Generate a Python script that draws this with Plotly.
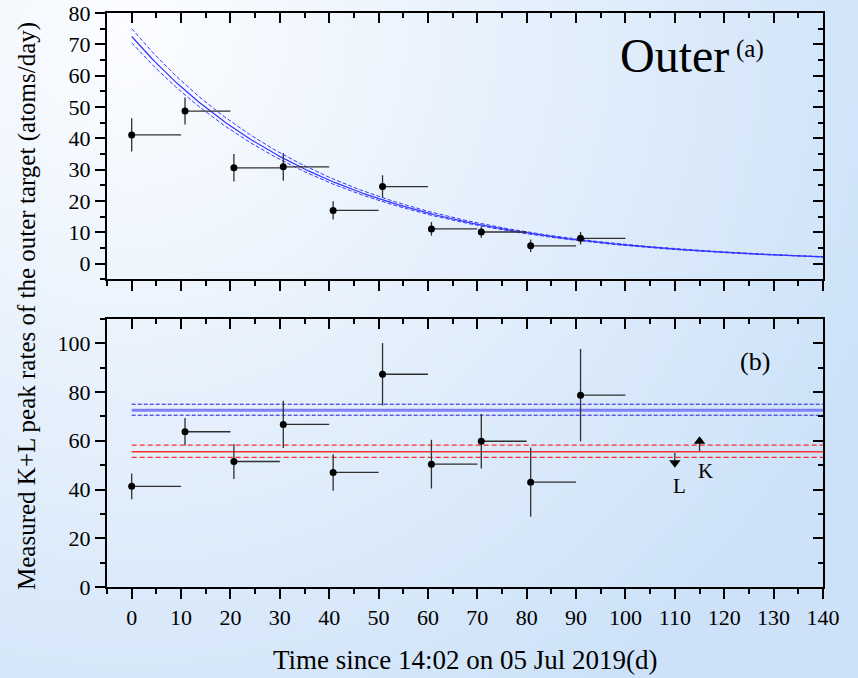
import base64
import struct
import zlib

import numpy as np
import plotly.graph_objects as go

# ---------------- data ----------------
# counting intervals (days since 14:02 on 05 Jul 2019)
t_start = [0, 10.8, 20.7, 30.7, 40.8, 50.8, 60.7, 70.8, 80.8, 90.9]
t_end = [10, 20, 30, 40, 50, 60, 70, 80, 90, 100]

# (a) measured K+L peak rates, outer target (atoms/day)
rate_outer = [41.1, 48.7, 30.6, 30.9, 17.0, 24.6, 11.1, 10.1, 5.7, 8.1]
rate_outer_err = [5.3, 4.3, 4.4, 4.4, 2.9, 3.6, 2.2, 1.8, 2.0, 2.0]

# (b) rates referred to the start time
rate_ref = [41.3, 63.7, 51.5, 66.7, 47.0, 87.3, 50.4, 59.8, 43.0, 78.7]
rate_ref_err = [5.3, 5.6, 7.2, 9.7, 7.5, 12.8, 10.0, 11.2, 14.2, 19.0]

# exponential fit: initial rate and its band, 51Cr half-life (d)
fit_a0 = 72.5
fit_a0_hi = 75.0
fit_a0_lo = 70.5
half_life = 27.7

# mean of the referred rates and its band
mean_rate = 55.5
mean_rate_hi = 58.2
mean_rate_lo = 53.2

# separate L and K peak values
peak_labels = ["L", "K"]
peak_t = [110, 115]
peak_rate = [51.0, 59.8]
peak_err_up = [4.0, 0.0]
peak_err_down = [0.0, 4.0]

x_range = [-5, 140]
x_ticks = list(range(0, 141, 10))
top_rng = [-5, 80]
bot_rng = [0, 110]

# ---------------- background gradient ----------------
W, H = 858, 678


def png_data_uri(rgb):
    h, w, _ = rgb.shape
    raw = b"".join(b"\x00" + rgb[r].tobytes() for r in range(h))

    def chunk(tag, data):
        return (struct.pack(">I", len(data)) + tag + data
                + struct.pack(">I", zlib.crc32(tag + data) & 0xFFFFFFFF))

    png = (b"\x89PNG\r\n\x1a\n"
           + chunk(b"IHDR", struct.pack(">IIBBBBB", w, h, 8, 2, 0, 0, 0))
           + chunk(b"IDAT", zlib.compress(raw, 9))
           + chunk(b"IEND", b""))
    return "data:image/png;base64," + base64.b64encode(png).decode()


gw, gh = W // 2, H // 2
yy, xx = np.mgrid[0:gh, 0:gw].astype(float)
dist = np.hypot(xx * 2 - 130, yy * 2 - 30)
tt = np.clip(dist / 800.0, 0, 1)[..., None]
c0 = np.array([252, 253, 255], float)
c1 = np.array([205, 226, 248], float)
grad = (c0 + (c1 - c0) * tt).round().astype(np.uint8)
bg_uri = png_data_uri(grad)

# ---------------- layout geometry ----------------
ml, mr, mt, mb = 107, 35, 13, 91
pw, ph = W - ml - mr, H - mt - mb
top_dom = [0.536, 1.0]
bot_dom = [0.0, 0.467]

SERIF = "Liberation Serif"
BLACK = "#000000"
ERRC = "#303030"

fig = go.Figure()

# ---- (a) fit curve and band ----
t_fit = np.linspace(0, 140, 300)
decay = np.exp(-np.log(2) * t_fit / half_life)
for a0, dash, width in [(fit_a0_hi, "4px,2px", 1), (fit_a0_lo, "4px,2px", 1),
                        (fit_a0, "solid", 1.2)]:
    fig.add_trace(go.Scatter(
        x=t_fit, y=a0 * decay, mode="lines", xaxis="x", yaxis="y",
        line=dict(color="#3535ff", width=width, dash=dash),
        hoverinfo="skip", showlegend=False))

# ---- (a) measured points ----
fig.add_trace(go.Scatter(
    x=t_start, y=rate_outer, mode="markers", xaxis="x", yaxis="y",
    marker=dict(color=BLACK, size=7),
    error_y=dict(type="data", array=rate_outer_err, color=ERRC,
                 thickness=1.3, width=0),
    error_x=dict(type="data", symmetric=False,
                 array=[e - s for s, e in zip(t_start, t_end)],
                 arrayminus=[0] * len(t_start), color=ERRC,
                 thickness=1.3, width=0),
    showlegend=False))

# ---- (b) horizontal reference lines ----
for val, color, width, dash in [
        (fit_a0_hi, "#1a1ae0", 1, "4px,2px"),
        (fit_a0_lo, "#1a1ae0", 1, "4px,2px"),
        (fit_a0, "#8080ff", 3, "solid"),
        (mean_rate_hi, "#ff2a2a", 1.1, "5px,3px"),
        (mean_rate_lo, "#ff2a2a", 1.1, "5px,3px"),
        (mean_rate, "#ff3030", 1.3, "solid")]:
    fig.add_trace(go.Scatter(
        x=[0, 140], y=[val, val], mode="lines", xaxis="x2", yaxis="y2",
        line=dict(color=color, width=width, dash=dash),
        hoverinfo="skip", showlegend=False))

# ---- (b) referred points ----
fig.add_trace(go.Scatter(
    x=t_start, y=rate_ref, mode="markers", xaxis="x2", yaxis="y2",
    marker=dict(color=BLACK, size=7),
    error_y=dict(type="data", array=rate_ref_err, color=ERRC,
                 thickness=1.3, width=0),
    error_x=dict(type="data", symmetric=False,
                 array=[e - s for s, e in zip(t_start, t_end)],
                 arrayminus=[0] * len(t_start), color=ERRC,
                 thickness=1.3, width=0),
    showlegend=False))

# ---- (b) L and K peaks ----
fig.add_trace(go.Scatter(
    x=peak_t, y=peak_rate, mode="markers", xaxis="x2", yaxis="y2",
    marker=dict(color=BLACK, size=10,
                symbol=["triangle-down", "triangle-up"]),
    error_y=dict(type="data", symmetric=False, array=peak_err_up,
                 arrayminus=peak_err_down, color=ERRC, thickness=1.3,
                 width=0),
    showlegend=False))

# invisible carriers so the mirrored (top / right) axes get drawn
for xa, ya, rng in [("x3", "y3", top_rng), ("x4", "y4", bot_rng)]:
    fig.add_trace(go.Scatter(
        x=[x_range[0]], y=[rng[0]], mode="markers", xaxis=xa, yaxis=ya,
        marker=dict(opacity=0, size=1), hoverinfo="skip", showlegend=False))

# ---------------- axes ----------------
tickfont = dict(family=SERIF, size=22, color=BLACK)
common = dict(tickwidth=1.5, tickcolor=BLACK, ticklen=10, showline=True,
              linecolor=BLACK, linewidth=2, showgrid=False, zeroline=False,
              automargin=False)


def main_x(anchor, labels):
    return dict(domain=[0, 1], anchor=anchor, range=x_range,
                tickvals=x_ticks, ticks="outside",
                showticklabels=labels, tickfont=tickfont,
                minor=dict(dtick=5, tick0=0, ticks="outside", ticklen=5,
                           tickwidth=1.5, tickcolor=BLACK),
                **common)


def mirror_x(overlay, anchor):
    return dict(overlaying=overlay, anchor=anchor, side="top",
                range=x_range, tickvals=x_ticks, ticks="inside",
                showticklabels=False,
                minor=dict(dtick=5, tick0=0, ticks="inside", ticklen=5,
                           tickwidth=1.5, tickcolor=BLACK),
                **common)


def main_y(dom, anchor, rng, dtick, minor):
    return dict(domain=dom, anchor=anchor, range=rng, dtick=dtick, tick0=0,
                ticks="outside", tickfont=tickfont,
                minor=dict(dtick=minor, tick0=0, ticks="outside", ticklen=5,
                           tickwidth=1.5, tickcolor=BLACK),
                **common)


def mirror_y(overlay, anchor, rng, dtick, minor):
    return dict(overlaying=overlay, anchor=anchor, side="right", range=rng,
                dtick=dtick, tick0=0, ticks="inside", showticklabels=False,
                minor=dict(dtick=minor, tick0=0, ticks="inside", ticklen=5,
                           tickwidth=1.5, tickcolor=BLACK),
                **common)


ann = []
ann.append(dict(text="Outer", x=110, y=66.5, xref="x", yref="y",
                showarrow=False, xanchor="center", yanchor="middle",
                font=dict(family=SERIF, size=48, color=BLACK)))
ann.append(dict(text="(a)", x=125.2, y=68.5, xref="x", yref="y",
                showarrow=False, xanchor="center", yanchor="middle",
                font=dict(family=SERIF, size=25, color=BLACK)))
ann.append(dict(text="(b)", x=126.3, y=92.4, xref="x2", yref="y2",
                showarrow=False, xanchor="center", yanchor="middle",
                font=dict(family=SERIF, size=26, color=BLACK)))
for lab, lx, ly in zip(peak_labels, [110.9, 116.3], [41.4, 47.5]):
    ann.append(dict(text=lab, x=lx, y=ly, xref="x2", yref="y2",
                    showarrow=False, xanchor="center", yanchor="middle",
                    font=dict(family=SERIF, size=21, color=BLACK)))
ann.append(dict(text="Time since 14:02 on 05 Jul 2019(d)",
                x=(465 - ml) / pw, y=(mt + ph - 660) / ph,
                xref="paper", yref="paper", showarrow=False,
                xanchor="center", yanchor="middle",
                font=dict(family=SERIF, size=27, color=BLACK)))
ann.append(dict(text="Measured K+L peak rates of the outer target (atoms/day)",
                x=(27 - ml) / pw, y=(mt + ph - 306) / ph,
                xref="paper", yref="paper", showarrow=False, textangle=-90,
                xanchor="center", yanchor="middle",
                font=dict(family=SERIF, size=25, color=BLACK)))

fig.update_layout(
    width=W, height=H,
    margin=dict(l=ml, r=mr, t=mt, b=mb, pad=0, autoexpand=False),
    font=dict(family=SERIF, color=BLACK),
    paper_bgcolor="#e6f0fb",
    plot_bgcolor="rgba(0,0,0,0)",
    xaxis=main_x("y", False),
    xaxis3=mirror_x("x", "y3"),
    yaxis=main_y(top_dom, "x", top_rng, 10, 5),
    yaxis3=mirror_y("y", "x3", top_rng, 10, 5),
    xaxis2=main_x("y2", True),
    xaxis4=mirror_x("x2", "y4"),
    yaxis2=main_y(bot_dom, "x2", bot_rng, 20, 10),
    yaxis4=mirror_y("y2", "x4", bot_rng, 20, 10),
    annotations=ann,
    images=[dict(source=bg_uri, xref="paper", yref="paper",
                 x=-ml / pw, y=1 + mt / ph, sizex=W / pw, sizey=H / ph,
                 xanchor="left", yanchor="top", sizing="stretch",
                 layer="below")],
    showlegend=False,
)

fig.write_html("out.html")
